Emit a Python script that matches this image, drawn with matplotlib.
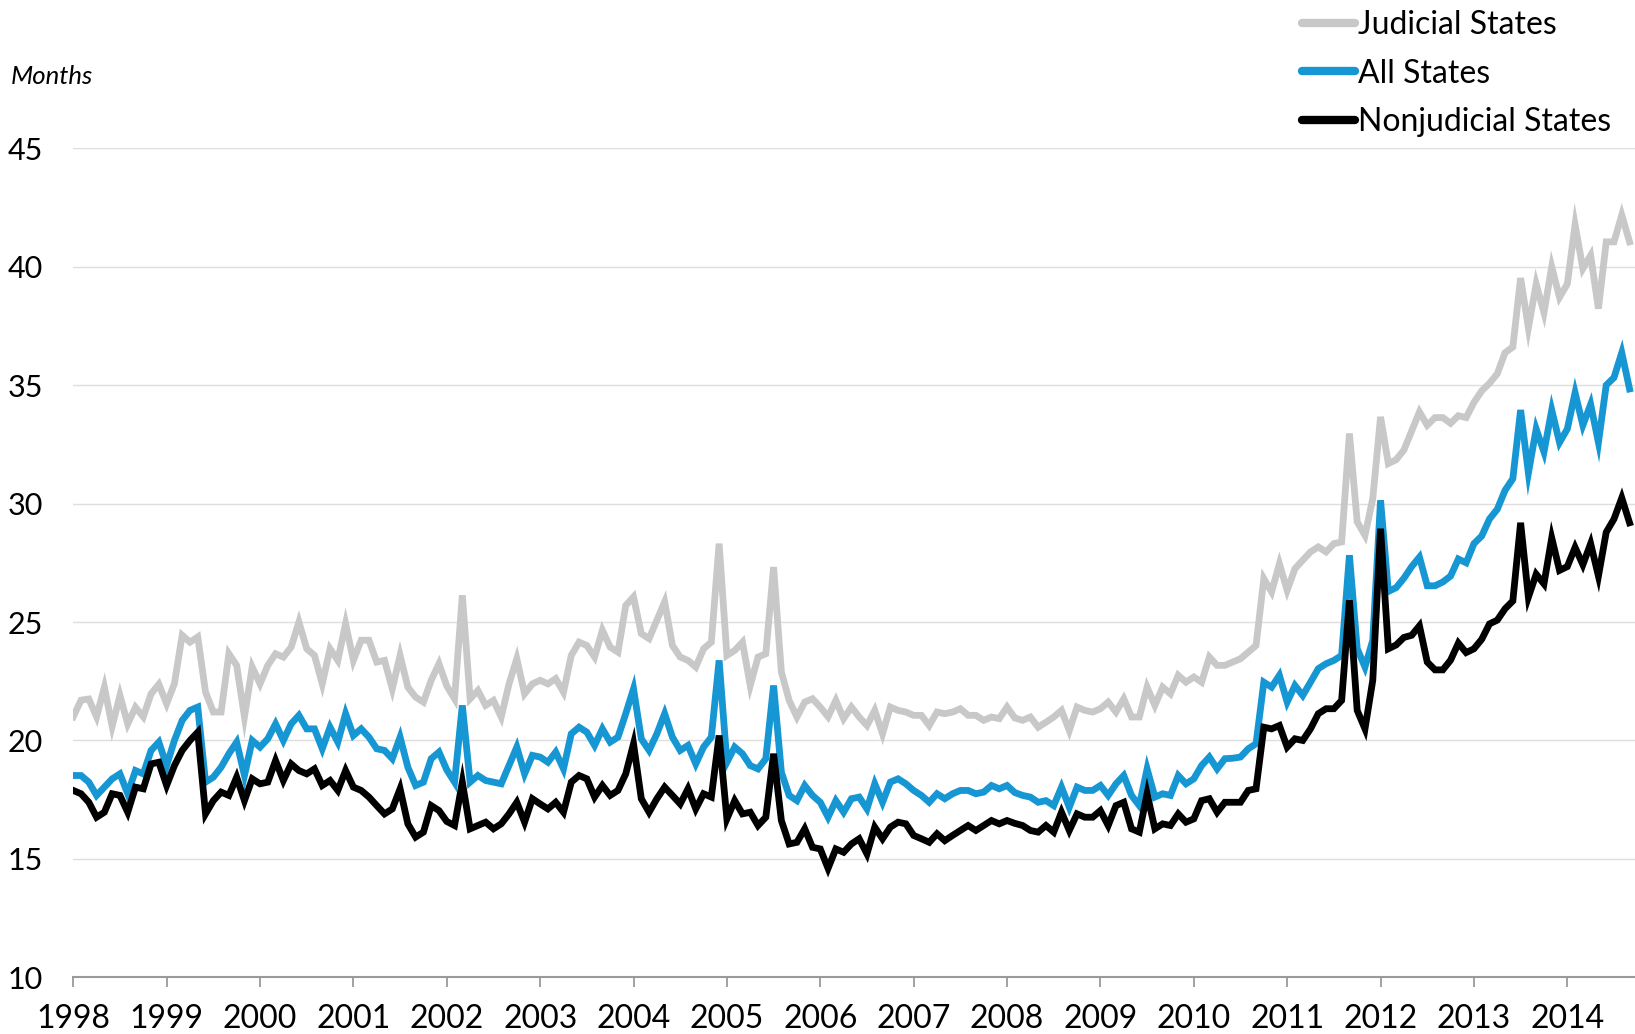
import numpy as np
import matplotlib
matplotlib.use("Agg")
import matplotlib.pyplot as plt

plt.rcParams['font.family'] = ['Lato', 'DejaVu Sans']

# Monthly values, Jan 1998 onward (months)
judicial = [
    21.0, 21.7, 21.75, 21.0, 22.25, 20.6, 21.9, 20.7, 21.4, 21.0, 21.97, 22.37,
    21.55, 22.4, 24.44, 24.15, 24.37, 22.04, 21.2, 21.2, 23.66, 23.17, 21.0, 23.1,
    22.39, 23.17, 23.66, 23.52, 23.94, 25.0, 23.87, 23.59, 22.39, 23.87, 23.38, 24.93,
    23.38, 24.23, 24.23, 23.31, 23.38, 22.18, 23.59, 22.25, 21.83, 21.62, 22.54, 23.24,
    22.3, 21.76, 26.13, 21.76, 22.11, 21.48, 21.69, 20.99, 22.39, 23.45, 21.97, 22.39,
    22.54, 22.39, 22.61, 22.04, 23.59, 24.15, 24.01, 23.52, 24.65, 23.94, 23.73, 25.7,
    26.06, 24.51, 24.3, 25.07, 25.85, 24.01, 23.52, 23.38, 23.1, 23.87, 24.15, 28.31,
    23.59, 23.8, 24.15, 22.32, 23.52, 23.66, 27.32, 22.89, 21.69, 20.99, 21.62, 21.76,
    21.41, 21.0, 21.69, 20.92, 21.41, 20.99, 20.63, 21.27, 20.28, 21.41, 21.27, 21.2,
    21.06, 21.06, 20.63, 21.2, 21.13, 21.2, 21.34, 21.06, 21.06, 20.85, 20.99, 20.92,
    21.41, 20.95, 20.85, 20.99, 20.56, 20.77, 20.99, 21.27, 20.42, 21.41, 21.27, 21.2,
    21.34, 21.62, 21.2, 21.76, 20.99, 20.99, 22.25, 21.48, 22.25, 21.97, 22.75, 22.46,
    22.68, 22.46, 23.52, 23.17, 23.17, 23.31, 23.45, 23.73, 24.01, 26.83, 26.27, 27.46,
    26.34, 27.25, 27.61, 27.96, 28.17, 27.96, 28.31, 28.38, 32.96, 29.23, 28.66, 30.21,
    33.66, 31.69, 31.85, 32.26, 33.06, 33.87, 33.31, 33.63, 33.63, 33.39, 33.71, 33.63,
    34.27, 34.76, 35.08, 35.48, 36.37, 36.61, 39.52, 37.42, 39.27, 38.06, 40.0, 38.71,
    39.27, 41.77, 39.92, 40.48, 38.23, 41.05, 41.05, 42.18, 41.05,
]

all_states = [
    18.52, 18.52, 18.24, 17.68, 18.03, 18.38, 18.59, 17.75, 18.73, 18.59, 19.58, 19.93,
    18.94, 20.0, 20.85, 21.27, 21.41, 18.24, 18.45, 18.87, 19.44, 19.93, 18.52, 20.0,
    19.72, 20.07, 20.7, 20.0, 20.7, 21.06, 20.49, 20.49, 19.65, 20.56, 19.93, 21.13,
    20.21, 20.49, 20.14, 19.65, 19.58, 19.23, 20.14, 18.87, 18.1, 18.24, 19.23, 19.51,
    18.76, 18.24, 21.48, 18.24, 18.52, 18.31, 18.24, 18.17, 18.94, 19.72, 18.59, 19.37,
    19.3, 19.08, 19.51, 18.8, 20.28, 20.56, 20.35, 19.79, 20.49, 19.93, 20.14, 21.13,
    22.18, 20.07, 19.58, 20.28, 21.13, 20.14, 19.58, 19.79, 19.01, 19.72, 20.14, 23.38,
    19.08, 19.72, 19.44, 18.94, 18.8, 19.23, 22.32, 18.66, 17.68, 17.46, 18.1, 17.68,
    17.39, 16.76, 17.46, 16.97, 17.54, 17.61, 17.11, 18.17, 17.39, 18.24, 18.38, 18.17,
    17.89, 17.68, 17.39, 17.75, 17.54, 17.75, 17.89, 17.89, 17.75, 17.82, 18.1, 17.96,
    18.1, 17.8, 17.68, 17.61, 17.39, 17.46, 17.25, 18.03, 17.18, 18.03, 17.89, 17.89,
    18.1, 17.68, 18.17, 18.52, 17.68, 17.25, 18.8, 17.61, 17.75, 17.68, 18.52, 18.17,
    18.38, 18.94, 19.3, 18.8, 19.23, 19.25, 19.3, 19.65, 19.86, 22.46, 22.25, 22.75,
    21.62, 22.32, 21.9, 22.46, 23.03, 23.24, 23.38, 23.59, 27.82, 23.87, 23.1, 24.23,
    30.14, 26.29, 26.45, 26.85, 27.34, 27.74, 26.53, 26.53, 26.69, 26.94, 27.66, 27.5,
    28.31, 28.63, 29.35, 29.76, 30.56, 31.05, 33.95, 31.29, 33.15, 32.18, 33.95, 32.58,
    33.15, 34.68, 33.31, 34.19, 32.58, 35.0, 35.32, 36.37, 34.84,
]

nonjudicial = [
    17.89, 17.75, 17.39, 16.76, 16.97, 17.75, 17.68, 16.97, 18.03, 17.96, 19.01, 19.08,
    18.1, 18.94, 19.58, 20.0, 20.35, 16.9, 17.46, 17.82, 17.68, 18.45, 17.46, 18.38,
    18.17, 18.24, 19.15, 18.31, 19.01, 18.73, 18.59, 18.8, 18.1, 18.31, 17.89, 18.73,
    18.03, 17.89, 17.61, 17.25, 16.9, 17.11, 17.96, 16.48, 15.92, 16.13, 17.25, 17.04,
    16.58, 16.41, 18.24, 16.27, 16.41, 16.55, 16.27, 16.48, 16.9, 17.39, 16.55, 17.54,
    17.32, 17.11, 17.39, 16.97, 18.24, 18.52, 18.38, 17.61, 18.1, 17.68, 17.89, 18.59,
    19.86, 17.54, 16.97, 17.54, 18.03, 17.68, 17.32, 17.96, 17.11, 17.75, 17.61, 20.21,
    16.69, 17.46, 16.9, 16.97, 16.41, 16.76, 19.44, 16.62, 15.63, 15.7, 16.27, 15.49,
    15.42, 14.6, 15.42, 15.28, 15.63, 15.85, 15.21, 16.34, 15.85, 16.34, 16.55, 16.48,
    15.99, 15.85, 15.7, 16.06, 15.77, 15.99, 16.2, 16.41, 16.2, 16.41, 16.62, 16.48,
    16.62, 16.5, 16.41, 16.2, 16.13, 16.41, 16.13, 16.97, 16.2, 16.9, 16.76, 16.76,
    17.04, 16.41, 17.25, 17.39, 16.27, 16.13, 17.75, 16.27, 16.48, 16.41, 16.9, 16.55,
    16.69, 17.46, 17.54, 16.97, 17.39, 17.39, 17.39, 17.89, 17.96, 20.56, 20.49, 20.63,
    19.72, 20.07, 20.0, 20.49, 21.13, 21.34, 21.34, 21.69, 25.92, 21.27, 20.49, 22.54,
    28.94, 23.87, 24.03, 24.35, 24.44, 24.84, 23.31, 22.98, 22.98, 23.39, 24.11, 23.71,
    23.87, 24.27, 24.92, 25.08, 25.56, 25.89, 29.19, 26.05, 27.02, 26.61, 28.55, 27.18,
    27.34, 28.15, 27.42, 28.31, 26.94, 28.79, 29.35, 30.24, 29.19,
]

years = list(range(1998, 2015))
yticks = [10, 15, 20, 25, 30, 35, 40, 45]

n = len(all_states)
dates = 1998 + np.arange(n) / 12.0

fig = plt.figure(figsize=(16.35, 10.34), dpi=100)
ax = fig.add_axes([0.0448, 0.0548, 0.9552, 0.8018])

ax.plot(dates, judicial, color='#c8c8c8', lw=4.9, label='Judicial States',
        solid_joinstyle='miter')
ax.plot(dates, all_states, color='#1696d2', lw=4.9, label='All States',
        solid_joinstyle='miter')
ax.plot(dates, nonjudicial, color='#000000', lw=4.9, label='Nonjudicial States',
        solid_joinstyle='miter')

ax.set_xlim(1998, 1998 + (n - 0.3) / 12.0)
ax.set_ylim(10, 45)
ax.set_yticks(yticks)
ax.set_xticks(years)
ax.set_xticklabels([str(y) for y in years])

for s in ['top', 'right', 'left']:
    ax.spines[s].set_visible(False)
ax.spines['bottom'].set_color('#9a9a9a')
ax.spines['bottom'].set_linewidth(1.5)

ax.grid(axis='y', color='#dedede', lw=1.0)
ax.set_axisbelow(True)
ax.tick_params(axis='y', length=0, pad=47, labelsize=22)
ax.tick_params(axis='x', length=7, width=1.3, color='#9a9a9a', pad=12, labelsize=23)
for lbl in ax.get_yticklabels():
    lbl.set_horizontalalignment('left')

fig.text(11 / 1635, 1 - 77 / 1034, 'Months', style='italic', fontsize=18.5,
         ha='left', va='center')

leg = ax.legend(loc='upper left', bbox_to_anchor=(1302 / 1635, 1 - 10 / 1034),
                bbox_transform=fig.transFigure, frameon=False, fontsize=23,
                handlelength=1.65, handletextpad=0.1, labelspacing=0.58,
                borderpad=0, borderaxespad=0)
for h in leg.get_lines():
    h.set_linewidth(6)
    h.set_solid_capstyle('round')

fig.savefig('out.png', dpi=100)
